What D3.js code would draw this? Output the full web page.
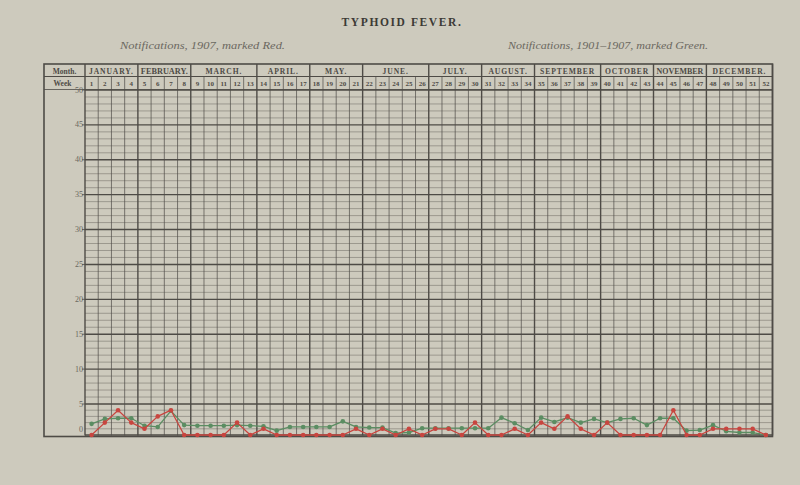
<!DOCTYPE html>
<html><head><meta charset="utf-8">
<script src="https://cdn.jsdelivr.net/npm/d3@7"></script>
<style>
html,body{margin:0;padding:0;background:#cdcabd;}
svg{display:block;}
</style></head>
<body>
<svg id="chart" width="800" height="485"></svg>
<script>
// ---- data ----
const title = "TYPHOID FEVER.";
const subtitleRed = "Notifications, 1907, marked Red.";
const subtitleGreen = "Notifications, 1901–1907, marked Green.";
const months = ["JANUARY.","FEBRUARY.","MARCH.","APRIL.","MAY.","JUNE.","JULY.","AUGUST.","SEPTEMBER","OCTOBER","NOVEMBER","DECEMBER."];
const monthWeeks = [4,4,5,4,4,5,4,4,5,4,4,5];
const weeks = d3.range(1,53);
const weekLabels = weeks.map(String);
const yTicks = [0,5,10,15,20,25,30,35,40,45,50];
// Notifications 1907 (red)
const cases1907 = [0,2,4,2,1,3,4,0,0,0,0,2,0,1,0,0,0,0,0,0,1,0,1,0,1,0,
                   1,1,0,2,0,0,1,0,2,1,3,1,0,2,0,0,0,0,4,0,0,1,1,1,1,0];
// Notifications 1901-1907 average (green)
const cases1901_1907 = [1.8,2.6,2.7,2.7,1.5,1.3,3.9,1.6,1.5,1.5,1.5,1.6,1.5,1.4,0.7,1.3,1.3,1.3,1.3,2.2,1.3,1.2,1.2,0.3,0.4,1.1,
                        1.1,1.1,1.1,1.1,1.1,2.8,1.9,0.8,2.8,2.1,2.8,2.0,2.6,2.0,2.6,2.7,1.6,2.7,2.7,0.7,0.8,1.6,0.6,0.4,0.4,0];

// ---- layout ----
const svg = d3.select("#chart");
const frameL = 44, frameT = 64, rowSep = 76.5, plotT = 90, plotB = 435.5;
const plotL = 85, plotR = 772.5;
const ink = "#4e4b46", inkLight = "#7a776f";
const red = "#c8453f", green = "#5b8d62";

const x = d3.scaleBand().domain(weeks).range([plotL, plotR]).paddingInner(0).paddingOuter(0);
const bw = x.bandwidth();
const y = d3.scaleLinear().domain([0,5,50]).range([435,404,90]);

// title & subtitles
svg.append("text").attr("x",402).attr("y",26).attr("text-anchor","middle")
  .attr("font-family","Liberation Serif, DejaVu Serif, serif").attr("font-weight","bold")
  .attr("font-size",11.5).attr("letter-spacing",1.6).attr("fill","#3c3a36").text(title);
svg.append("text").attr("x",120).attr("y",49)
  .attr("font-family","Liberation Serif, serif").attr("font-style","italic")
  .attr("font-size",11).attr("fill","#6b6860").attr("textLength",165).attr("lengthAdjust","spacingAndGlyphs").text(subtitleRed);
svg.append("text").attr("x",508).attr("y",49)
  .attr("font-family","Liberation Serif, serif").attr("font-style","italic")
  .attr("font-size",11).attr("fill","#6b6860").attr("textLength",200).attr("lengthAdjust","spacingAndGlyphs").text(subtitleGreen);

// horizontal grid lines
const hUnits = d3.range(0,51);
svg.append("g").selectAll("line").data(hUnits).join("line")
  .attr("x1",plotL).attr("x2",plotR)
  .attr("y1",d=>y(d)).attr("y2",d=>y(d))
  .attr("stroke",d=>d%5===0?ink:inkLight)
  .attr("stroke-width",d=>d%5===0?1.4:0.6);

// week boundaries
const bounds = d3.range(0,53).map(i=>plotL+i*bw);
const monthStarts = [0]; monthWeeks.reduce((a,b)=>{monthStarts.push(a+b);return a+b;},0);
svg.append("g").selectAll("line").data(d3.range(0,53)).join("line")
  .attr("x1",i=>bounds[i]).attr("x2",i=>bounds[i])
  .attr("y1",i=>monthStarts.includes(i)?frameT:rowSep).attr("y2",plotB)
  .attr("stroke",ink)
  .attr("stroke-width",i=>monthStarts.includes(i)?1.4:0.7);

// header rows
svg.append("line").attr("x1",frameL).attr("x2",plotR).attr("y1",rowSep).attr("y2",rowSep).attr("stroke",ink).attr("stroke-width",1);
svg.append("line").attr("x1",frameL).attr("x2",plotR).attr("y1",plotT-0.5).attr("y2",plotT-0.5).attr("stroke",ink).attr("stroke-width",0.8);
// frame
svg.append("rect").attr("x",frameL).attr("y",frameT).attr("width",plotR-frameL).attr("height",plotB-frameT+1)
  .attr("fill","none").attr("stroke",ink).attr("stroke-width",1.6);

const hdrFont = "Liberation Serif, DejaVu Serif, serif";
svg.append("text").attr("x",(frameL+plotL)/2).attr("y",73.5).attr("text-anchor","middle")
  .attr("font-family",hdrFont).attr("font-weight","bold").attr("font-size",7.5).attr("fill",ink).text("Month.");
svg.append("text").attr("x",(frameL+plotL)/2 - 2).attr("y",86).attr("text-anchor","middle")
  .attr("font-family",hdrFont).attr("font-weight","bold").attr("font-size",7.5).attr("fill",ink).text("Week");

// month labels
svg.append("g").selectAll("text").data(months).join("text")
  .attr("x",(d,i)=>(bounds[monthStarts[i]]+bounds[monthStarts[i+1]])/2)
  .attr("y",73.5).attr("text-anchor","middle")
  .attr("font-family",hdrFont).attr("font-weight","bold").attr("font-size",7.6)
  .attr("letter-spacing",0.9).attr("fill",ink).text(d=>d)
  .each(function(d,i){
    const span = bounds[monthStarts[i+1]]-bounds[monthStarts[i]];
    const w = this.getComputedTextLength();
    if (w > span-6) { d3.select(this).attr("letter-spacing",0).attr("textLength",span-6).attr("lengthAdjust","spacingAndGlyphs"); }
  });

// week labels
svg.append("g").selectAll("text").data(weeks).join("text")
  .attr("x",d=>x(d)+bw/2).attr("y",86.2).attr("text-anchor","middle")
  .attr("font-family",hdrFont).attr("font-weight","bold").attr("font-size",7)
  .attr("fill",ink).text((d,i)=>weekLabels[i]);

// y tick labels
svg.append("g").selectAll("text").data(yTicks).join("text")
  .attr("x",plotL-2).attr("y",d=>d===0?y(d)-3:y(d)+2.5).attr("text-anchor","end")
  .attr("font-family",hdrFont).attr("font-size",8).attr("fill","#6b6860").text(d=>d);
svg.append("g").selectAll("line").data(yTicks.filter(d=>d>0)).join("line")
  .attr("x1",plotL-3).attr("x2",plotL).attr("y1",d=>y(d)).attr("y2",d=>y(d))
  .attr("stroke",ink).attr("stroke-width",0.8);

// series
function drawSeries(vals,color){
  const pts = vals.map((v,i)=>[x(weeks[i])+bw/2, y(v)]);
  svg.append("path").attr("d",d3.line()(pts)).attr("fill","none")
    .attr("stroke",color).attr("stroke-width",1.3).attr("stroke-linejoin","round");
  svg.append("g").selectAll("circle").data(pts).join("circle")
    .attr("cx",d=>d[0]).attr("cy",d=>d[1]).attr("r",2.3).attr("fill",color);
}
drawSeries(cases1901_1907, green);
drawSeries(cases1907, red);
</script>
</body></html>
